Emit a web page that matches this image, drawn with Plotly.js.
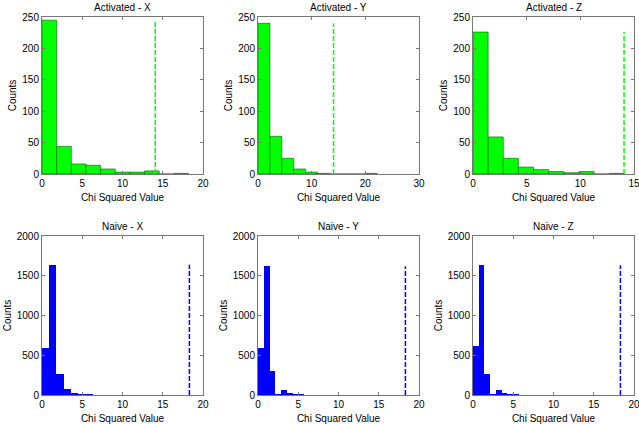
<!DOCTYPE html>
<html>
<head>
<meta charset="utf-8">
<script src="https://cdn.plot.ly/plotly-3.0.1.min.js"></script>
<style>html,body{margin:0;padding:0;background:#fff}#chart{width:639px;height:424px}</style>
</head>
<body>
<div id="chart"></div>
<script>
// ---- data ----
var panelTitles = ["Activated - X", "Activated - Y", "Activated - Z", "Naive - X", "Naive - Y", "Naive - Z"];

var actXCenters = [0.91, 2.73, 4.55, 6.37, 8.19, 10.01, 11.83, 13.65, 15.47, 17.29];
var actXCounts  = [245, 44, 16, 14, 8, 3, 3, 5, 0, 1];
var actXWidth   = 1.82;

var actYCenters = [1.11, 3.33, 5.55, 7.77, 9.99, 12.21, 14.43, 16.65, 18.87, 21.09];
var actYCounts  = [240, 60, 25, 8, 3, 1, 0, 0, 0, 1];
var actYWidth   = 2.22;

var actZCenters = [0.705, 2.115, 3.525, 4.935, 6.345, 7.755, 9.165, 10.575, 11.985, 13.395];
var actZCounts  = [226, 59, 25, 11, 7, 4, 2, 4, 0, 1];
var actZWidth   = 1.41;

var naiXCenters = [0.45, 1.35, 2.25, 3.15, 4.05, 4.95, 5.85, 6.75, 7.65, 8.55];
var naiXCounts  = [587, 1639, 268, 75, 25, 12, 8, 6, 4, 3];
var naiXWidth   = 0.9;

var naiYCenters = [0.36, 1.08, 1.80, 2.52, 3.24, 3.96, 4.68, 5.40, 6.12, 6.84];
var naiYCounts  = [587, 1620, 300, 15, 60, 28, 10, 8, 6, 3];
var naiYWidth   = 0.72;

var naiZCenters = [0.355, 1.065, 1.775, 2.485, 3.195, 3.905, 4.615, 5.325, 6.035, 6.745];
var naiZCounts  = [612, 1631, 268, 17, 63, 25, 12, 8, 5, 3];
var naiZWidth   = 0.71;

// critical values (dashed lines) and their heights
var critValues  = [14.07, 14.07, 14.07, 18.31, 18.31, 18.31];
var critHeights = [245, 240, 226, 1639, 1620, 1631];

var xRanges = [[0, 20], [0, 30], [0, 15], [0, 20], [0, 20], [0, 20]];
var xDticks = [5, 10, 5, 5, 5, 5];
var yRanges = [[0, 250], [0, 250], [0, 250], [0, 2000], [0, 2000], [0, 2000]];
var yDticks = [50, 50, 50, 500, 500, 500];

// ---- build ----
var centers = [actXCenters, actYCenters, actZCenters, naiXCenters, naiYCenters, naiZCenters];
var counts  = [actXCounts, actYCounts, actZCounts, naiXCounts, naiYCounts, naiZCounts];
var widths  = [actXWidth, actYWidth, actZWidth, naiXWidth, naiYWidth, naiZWidth];

var W = 639, H = 424;
var colPx = [[42, 203], [258, 419], [473, 634]];
var rowPx = [[17, 174], [236, 395]];

var green = "#00ff00", blue = "#0000ff";
var font = {family: "Liberation Sans, Arial, sans-serif", size: 10, color: "#000"};

var data = [];
var layout = {
  width: W, height: H,
  margin: {l: 0, r: 0, t: 0, b: 0},
  paper_bgcolor: "#fff", plot_bgcolor: "#fff",
  showlegend: false, font: font, bargap: 0,
  annotations: []
};

for (var i = 0; i < 6; i++) {
  var r = Math.floor(i / 3), c = i % 3;
  var n = i + 1;
  var xa = "x" + (n === 1 ? "" : n), ya = "y" + (n === 1 ? "" : n);
  var col = r === 0 ? green : blue;
  data.push({
    type: "bar", x: centers[i], y: counts[i], width: widths[i],
    xaxis: xa, yaxis: ya,
    marker: {color: col, line: {color: r === 0 ? "#006000" : blue, width: r === 0 ? 0.6 : 0}},
    hoverinfo: "skip"
  });
  data.push({
    type: "scatter", mode: "lines",
    x: [critValues[i], critValues[i]], y: [0, critHeights[i]],
    xaxis: xa, yaxis: ya,
    line: {color: col, width: 1.5, dash: "5px,2px"},
    hoverinfo: "skip"
  });
  var xd = [colPx[c][0] / W, colPx[c][1] / W];
  var yd = [1 - rowPx[r][1] / H, 1 - rowPx[r][0] / H];
  var axCommon = {
    showline: true, linecolor: "#777", linewidth: 1, mirror: "ticks",
    ticks: "inside", ticklen: 3, tickcolor: "#777", tickwidth: 1,
    showgrid: false, zeroline: false, tickfont: font, fixedrange: true,
    ticklabeloverflow: "allow"
  };
  layout["xaxis" + (n === 1 ? "" : n)] = Object.assign({}, axCommon, {
    domain: xd, range: xRanges[i], dtick: xDticks[i], tick0: 0,
    anchor: ya, title: {text: "Chi Squared Value", font: font, standoff: 5}
  });
  layout["yaxis" + (n === 1 ? "" : n)] = Object.assign({}, axCommon, {
    domain: yd, range: yRanges[i], dtick: yDticks[i], tick0: 0,
    anchor: xa, title: {text: "Counts", font: font, standoff: 3}
  });
  layout.annotations.push({
    text: panelTitles[i], xref: "paper", yref: "paper",
    x: (xd[0] + xd[1]) / 2, y: yd[1], yanchor: "bottom", xanchor: "center",
    yshift: 2, showarrow: false, font: font
  });
}

Plotly.newPlot("chart", data, layout, {staticPlot: true, displayModeBar: false});
</script>
</body>
</html>
